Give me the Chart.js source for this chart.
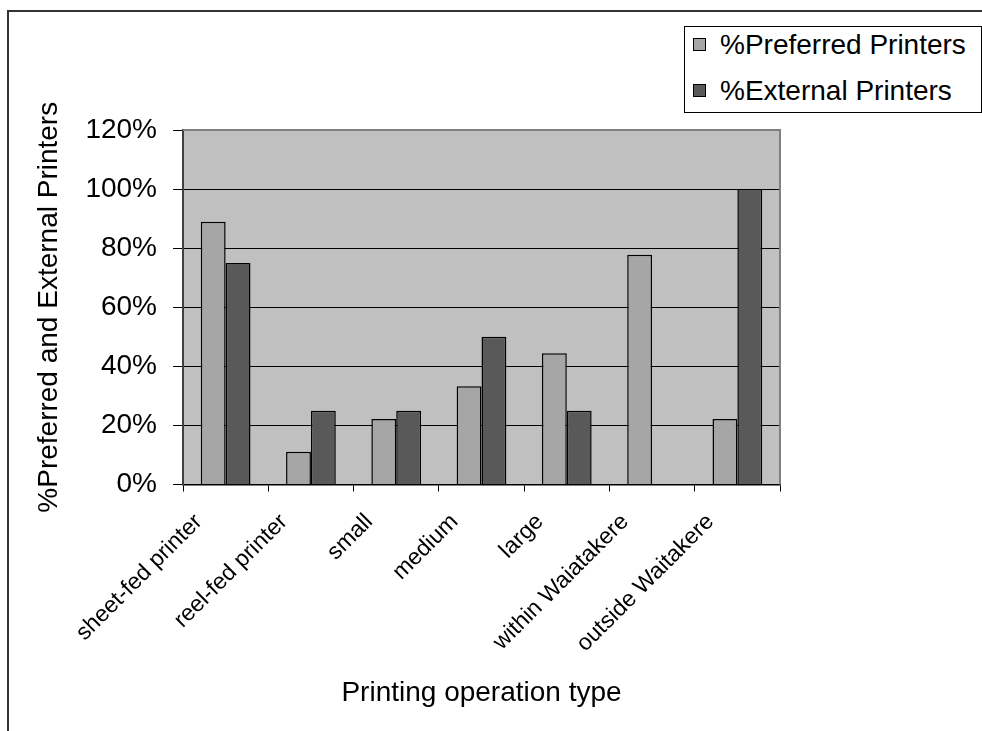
<!DOCTYPE html>
<html>
<head>
<meta charset="utf-8">
<script src="https://cdn.jsdelivr.net/npm/chart.js@4/dist/chart.umd.min.js"></script>
<style>
  html, body { margin: 0; padding: 0; background: #fff; overflow: hidden; }
  #wrap { position: relative; width: 982px; height: 731px; }
  #frame {
    position: absolute; left: 7px; top: 10px; width: 1000px; height: 800px;
    border-left: 2px solid #333; border-top: 2px solid #333;
  }
  #chart { position: absolute; left: 0; top: 0; }
  #legend {
    position: absolute; left: 684px; top: 26px; width: 296px; height: 85px;
    border: 1px solid #000; background: #fff;
    font-family: 'Liberation Sans', Arial, sans-serif; font-size: 28px; color: #000;
  }
  .row { position: absolute; left: 8px; height: 32px; line-height: 32px; white-space: nowrap; }
  .sw { display: inline-block; width: 11px; height: 11px; border: 1px solid #000; vertical-align: middle; margin-right: 14px; position: relative; top: -2px; }
</style>
</head>
<body>
<div id="wrap">
  <div id="frame"></div>
  <canvas id="chart" width="982" height="731"></canvas>
  <div id="legend"></div>
</div>
<script>
// Printing operation categories and the share of each printer type
const categories = ['sheet-fed printer', 'reel-fed printer', 'small', 'medium', 'large', 'within Waiatakere', 'outside Waitakere'];
const preferredPrinters = [88.9, 11.1, 22.2, 33.3, 44.4, 77.8, 22.2];
const externalPrinters = [75, 25, 25, 50, 25, 0, 100];
const seriesNames = ['%Preferred Printers', '%External Printers'];
const yTicks = [0, 20, 40, 60, 80, 100, 120];

const colors = ['#A6A6A6', '#595959'];
const FONT = "'Liberation Sans', Arial, sans-serif";

// HTML legend
const legend = document.getElementById('legend');
seriesNames.forEach((name, i) => {
  const row = document.createElement('div');
  row.className = 'row';
  row.style.top = (i === 0 ? 2 : 48) + 'px';
  const sw = document.createElement('span');
  sw.className = 'sw';
  sw.style.background = colors[i];
  row.appendChild(sw);
  row.appendChild(document.createTextNode(name));
  legend.appendChild(row);
});

// Plot area fill and its grey top/right outline
const plotArea = {
  id: 'plotArea',
  beforeDraw(chart) {
    const { ctx, chartArea: a } = chart;
    ctx.save();
    ctx.fillStyle = '#C0C0C0';
    ctx.fillRect(a.left, a.top, a.right - a.left, a.bottom - a.top);
    ctx.restore();
  },
  afterDatasetsDraw(chart) {
    const { ctx, chartArea: a } = chart;
    ctx.save();
    ctx.strokeStyle = '#808080';
    ctx.lineWidth = 2;
    ctx.beginPath();
    ctx.moveTo(a.left, a.top);
    ctx.lineTo(a.right, a.top);
    ctx.lineTo(a.right, a.bottom);
    ctx.stroke();
    ctx.restore();
  }
};

new Chart(document.getElementById('chart'), {
  type: 'bar',
  data: {
    labels: categories,
    datasets: [
      { label: seriesNames[0], data: preferredPrinters, backgroundColor: colors[0], borderColor: '#000', borderWidth: 1.5 },
      { label: seriesNames[1], data: externalPrinters, backgroundColor: colors[1], borderColor: '#000', borderWidth: 1.5 }
    ]
  },
  options: {
    responsive: false,
    devicePixelRatio: 1,
    animation: false,
    layout: { padding: { left: 8, top: 130, right: 202, bottom: 0 } },
    datasets: { bar: { categoryPercentage: 0.583, barPercentage: 1.0 } },
    plugins: { legend: { display: false }, tooltip: { enabled: false } },
    scales: {
      x: {
        grid: { offset: true, drawOnChartArea: false, drawTicks: true, tickLength: 7, color: '#000' },
        border: { display: true, color: '#000', width: 1.5 },
        ticks: { minRotation: 45, maxRotation: 45, color: '#000', padding: 17, labelOffset: -27, font: { family: FONT, size: 23 } },
        title: { display: true, text: 'Printing operation type', color: '#000', font: { family: FONT, size: 28 }, padding: { top: 0, bottom: 21 } },
        afterFit(scale) { scale.height = 246.5; }
      },
      y: {
        min: 0, max: 120,
        afterBuildTicks(scale) { scale.ticks = yTicks.map(v => ({ value: v })); },
        grid: {
          color: ctx => (ctx.tick && ctx.tick.value === 120 ? '#808080' : '#000'),
          tickColor: '#000',
          tickLength: 10,
          lineWidth: 1
        },
        border: { display: true, color: '#404040', width: 2 },
        ticks: { color: '#000', padding: 16, font: { family: FONT, size: 28 }, callback: v => v + '%' },
        title: { display: true, text: '%Preferred and External Printers', color: '#000', font: { family: FONT, size: 28 }, padding: { top: 24, bottom: 0 } },
        afterFit(scale) { scale.width = 175; }
      }
    }
  },
  plugins: [plotArea]
});
</script>
</body>
</html>
